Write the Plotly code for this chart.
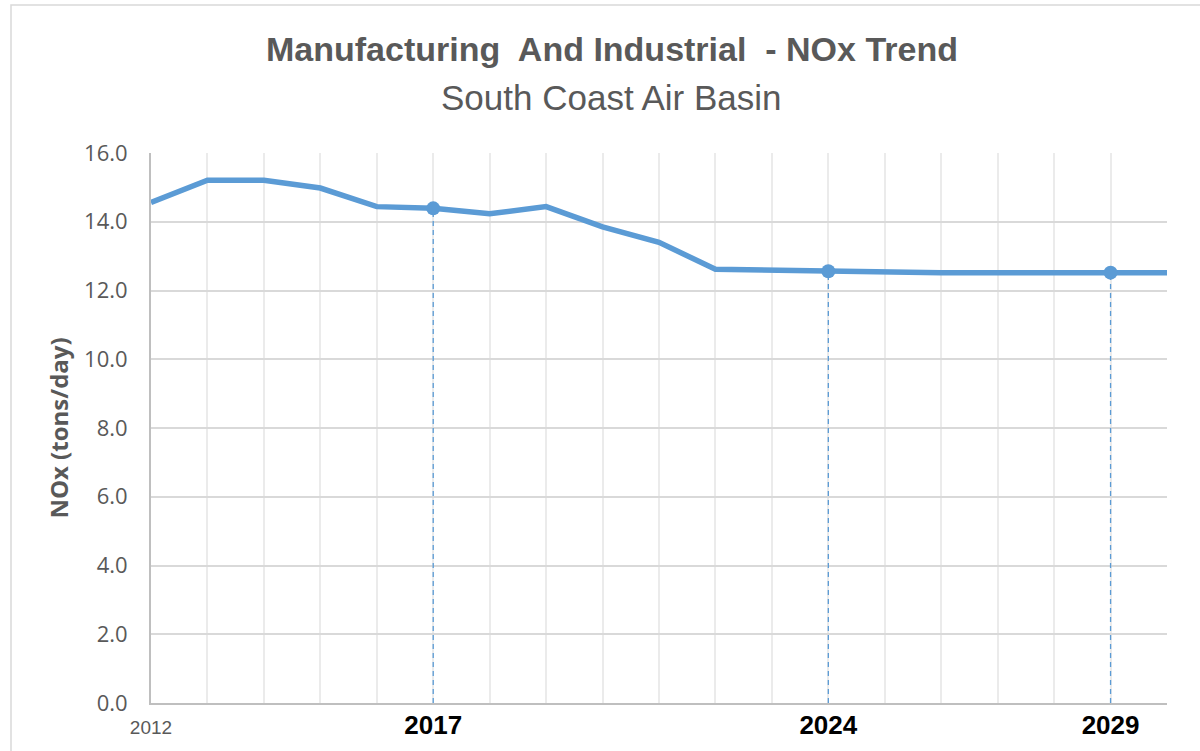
import plotly.graph_objects as go

# NOx emissions, Manufacturing and Industrial sector, South Coast Air Basin
years = list(range(2012, 2031))
nox_tpd = [14.56, 15.21, 15.21, 14.98, 14.44, 14.39, 14.23, 14.44, 13.85, 13.40,
           12.62, 12.59, 12.56, 12.56, 12.52, 12.52, 12.52, 12.52, 12.52]

# Milestone years highlighted with markers and drop lines
milestone_years = [2017, 2024, 2029]

tick_vals = [2012, 2017, 2024, 2029]
tick_text = ["<span style='font-size:19px;color:#595959;font-weight:normal'>2012</span>",
             "<b>2017</b>", "<b>2024</b>", "<b>2029</b>"]

y_ticks = [0, 2, 4, 6, 8, 10, 12, 14, 16]

BLUE = "#5B9BD5"
GRAY_TXT = "#595959"
SANS = "Liberation Sans, Arial, sans-serif"

milestone_vals = [nox_tpd[years.index(y)] for y in milestone_years]

fig = go.Figure()

# dashed drop lines from each milestone point to the axis
for yr, v in zip(milestone_years, milestone_vals):
    fig.add_trace(go.Scatter(
        x=[yr, yr], y=[0, v], mode="lines",
        line=dict(color=BLUE, width=1.3, dash="5px,4px"),
        hoverinfo="skip", showlegend=False))

fig.add_trace(go.Scatter(
    x=years, y=nox_tpd, mode="lines",
    line=dict(color=BLUE, width=5.5),
    name="NOx", showlegend=False))

fig.add_trace(go.Scatter(
    x=milestone_years, y=milestone_vals, mode="markers",
    marker=dict(color=BLUE, size=14),
    showlegend=False))

L, R, T, B = 151, 33, 153, 48
PW, PH = 1200 - L - R, 751 - T - B


def px_x(px):
    return (px - L) / PW


def px_y(py):
    return (751 - B - py) / PH


fig.update_layout(
    width=1200, height=751,
    margin=dict(l=L, r=R, t=T, b=B, pad=0, autoexpand=False),
    paper_bgcolor="white", plot_bgcolor="white",
    xaxis=dict(
        range=[2012, 2030], tickmode="array", tickvals=tick_vals, ticktext=tick_text,
        tickfont=dict(family=SANS, size=26, color="black"),
        showgrid=True, gridcolor="#EBEBEB", gridwidth=1.5,
        minor=dict(tick0=2012, dtick=1, showgrid=True, gridcolor="#EBEBEB", gridwidth=1.5),
        showline=True, linecolor="#BFBFBF", linewidth=2,
        ticks="", ticklabelstandoff=-2, zeroline=False, automargin=False,
    ),
    yaxis=dict(
        range=[0, 16], tickmode="array", tickvals=y_ticks,
        ticktext=[f"{v:.1f}" for v in y_ticks],
        tickfont=dict(family="Open Sans, sans-serif", size=22, color=GRAY_TXT),
        showgrid=True, gridcolor="#D9D9D9", gridwidth=1.5,
        showline=True, linecolor="#BFBFBF", linewidth=2,
        ticks="", ticklabelstandoff=17, zeroline=False, automargin=False,
        title=dict(text="<b>NOx (tons/day)</b>",
                   font=dict(family="Open Sans, sans-serif", size=24, color=GRAY_TXT),
                   standoff=9),
    ),
    shapes=[dict(type="rect", xref="paper", yref="paper",
                 x0=px_x(11), x1=px_x(1260), y0=px_y(800), y1=px_y(5),
                 line=dict(color="#D9D9D9", width=1.5), layer="below")],
    annotations=[
        dict(text="<b>Manufacturing  And Industrial  - NOx Trend</b>",
             xref="paper", yref="paper", x=px_x(612), y=px_y(49),
             xanchor="center", yanchor="middle", showarrow=False,
             font=dict(family=SANS, size=34, color=GRAY_TXT)),
        dict(text="South Coast Air Basin",
             xref="paper", yref="paper", x=px_x(611), y=px_y(98),
             xanchor="center", yanchor="middle", showarrow=False,
             font=dict(family=SANS, size=35, color=GRAY_TXT)),
    ],
)

fig.write_html("out.html")
